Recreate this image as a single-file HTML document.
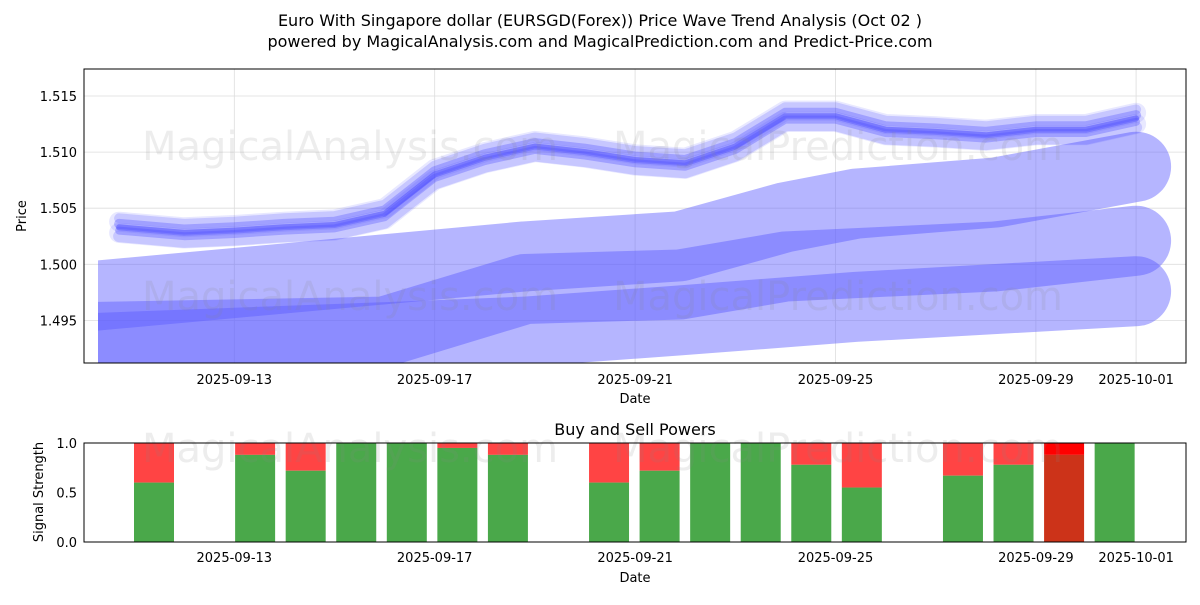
<!DOCTYPE html>
<html><head><meta charset="utf-8"><style>
body{margin:0;background:#fff;font-family:"Liberation Sans","DejaVu Sans",sans-serif}
svg text{font-family:"DejaVu Sans","Liberation Sans",sans-serif}
</style></head><body>
<svg id="c" width="1200" height="600" xmlns="http://www.w3.org/2000/svg">
<defs><clipPath id="cp"><rect x="84" y="69" width="1102" height="294"/></clipPath>
<clipPath id="cpb"><rect x="98" y="69" width="1088" height="294"/></clipPath></defs>
<text x="600" y="26" text-anchor="middle" font-size="16">Euro With Singapore dollar (EURSGD(Forex)) Price Wave Trend Analysis (Oct 02 )</text>
<text x="600" y="47" text-anchor="middle" font-size="16">powered by MagicalAnalysis.com and MagicalPrediction.com and Predict-Price.com</text>
<g id="topg"></g>
<g id="botg"></g>
</svg>
<script>
const dates=["2025-09-13","2025-09-17","2025-09-21","2025-09-25","2025-09-29","2025-10-01"];
const yTicks=[1.495,1.500,1.505,1.510,1.515];
const waveDays=[0.7,2,3,4,5,6,7,8,9,10,11,12,13,14,15,16,17,18,19,20,21];
const waveVals=[1.5033,1.5028,1.5030,1.5033,1.5035,1.5045,1.5080,1.5095,1.5105,1.5100,1.5093,1.5090,1.5105,1.5132,1.5132,1.5120,1.5118,1.5115,1.5120,1.5120,1.5130];
const band1Days=[0,8.8,11.9,14,15.4,18.2,21];
const band1=[1.4971,1.5007,1.5016,1.5042,1.5054,1.5064,1.5087];
const band2Days=[0,6,8.8,11.9,14,18.2,21];
const band2=[1.4935,1.4940,1.4978,1.4982,1.4998,1.5007,1.5021];
const band3Days=[0,6,8.8,11.9,15.4,21];
const band3=[1.4925,1.4935,1.4940,1.4950,1.4962,1.4976];
const barDays=[2,4,5,6,7,8,9,11,12,13,14,15,16,18,19,20,21];
const buyVals=[0.6,0.88,0.72,1.0,1.0,0.95,0.88,0.6,0.72,1.0,1.0,0.78,0.55,0.67,0.78,0.88,1.0];
const dayOf={"2025-09-13":3,"2025-09-17":7,"2025-09-21":11,"2025-09-25":15,"2025-09-29":19,"2025-10-01":21};
const NS="http://www.w3.org/2000/svg";
const X=d=>84+(d)*50.1;
const XB=d=>134+(d-2)*50.56;
const Y=v=>96+(1.515-v)*11220;
const YB=v=>542-v*99;
function mk(p,t,a){const e=document.createElementNS(NS,t);for(const k in a)e.setAttribute(k,a[k]);p.appendChild(e);return e;}
const topG=document.getElementById('topg'),botG=document.getElementById('botg');
for(const d of dates){const l=mk(topG,'line',{x1:X(dayOf[d]),x2:X(dayOf[d]),y1:69,y2:363,stroke:'#ddd','stroke-width':0.8});


const t=mk(topG,'text',{x:X(dayOf[d]),y:384,'text-anchor':'middle','font-size':13});t.textContent=d;


const t2=mk(botG,'text',{x:X(dayOf[d]),y:562,'text-anchor':'middle','font-size':13});t2.textContent=d;

}
for(const v of yTicks){const l=mk(topG,'line',{x1:84,x2:1186,y1:Y(v),y2:Y(v),stroke:'#ddd','stroke-width':0.8});


const t=mk(topG,'text',{x:77,y:Y(v)+5,'text-anchor':'end','font-size':13});t.textContent=v.toFixed(3);

}
const wm=[["MagicalAnalysis.com",350,160],["MagicalPrediction.com",838,160],["MagicalAnalysis.com",350,310],["MagicalPrediction.com",838,310]];
const gb=mk(topG,'g',{'clip-path':'url(#cpb)'});
const g=mk(topG,'g',{'clip-path':'url(#cp)'});
function path(days,vals){return days.map((d,i)=>(i?'L':'M')+X(d).toFixed(1)+' '+Y(vals[i]).toFixed(1)).join(' ');}
[[band1Days,band1,'b1'],[band2Days,band2,'b2'],[band3Days,band3,'b3']].forEach(([ds,b,n])=>{
const p=mk(gb,'path',{d:path(ds,b),fill:'none',stroke:'#5a5aff','stroke-opacity':0.45,'stroke-width':70,'stroke-linecap':'round','stroke-linejoin':'round'});

});
const offs=[[0.0005,20,0.12],[-0.0005,20,0.12],[0.0008,10,0.2],[-0.0008,12,0.2],[0.0003,10,0.3],[-0.0003,8,0.3],[0,6,0.45]];
offs.forEach(([o,w,a])=>{const p=mk(g,'path',{d:path(waveDays,waveVals.map(v=>v+o)),fill:'none',stroke:'#4444ff','stroke-opacity':a,'stroke-width':w,'stroke-linejoin':'round','stroke-linecap':'round'});

});
wm.forEach(([s,x,y])=>{const t=mk(topG,'text',{x:x,y:y,'text-anchor':'middle','font-size':40,fill:'#888','fill-opacity':0.15});t.textContent=s;

});
const r=mk(topG,'rect',{x:84,y:69,width:1102,height:294,fill:'none',stroke:'#000','stroke-width':1});


let t=mk(topG,'text',{x:635,y:403,'text-anchor':'middle','font-size':13});t.textContent='Date';


t=mk(topG,'text',{x:26,y:216,'text-anchor':'middle','font-size':13,transform:'rotate(-90 26 216)'});t.textContent='Price';


t=mk(botG,'text',{x:635,y:435,'text-anchor':'middle','font-size':16});t.textContent='Buy and Sell Powers';


barDays.forEach((d,i)=>{const x=XB(d),b=buyVals[i];const last=d===20;
const s=mk(botG,'rect',{x:x,y:YB(1),width:40,height:YB(b)-YB(1),fill:last?'#ff0000':'#ff4444'});


const bb=mk(botG,'rect',{x:x,y:YB(b),width:40,height:YB(0)-YB(b),fill:last?'#cc3319':'#4aa84a'});

});
[["MagicalAnalysis.com",350,462],["MagicalPrediction.com",838,462]].forEach(([s,x,y])=>{const t=mk(botG,'text',{x:x,y:y,'text-anchor':'middle','font-size':40,fill:'#888','fill-opacity':0.15});t.textContent=s;

});
[0,0.5,1].forEach(v=>{const t=mk(botG,'text',{x:77,y:YB(v)+5,'text-anchor':'end','font-size':13});t.textContent=v.toFixed(1);

});
const r2=mk(botG,'rect',{x:84,y:443,width:1102,height:99,fill:'none',stroke:'#000','stroke-width':1});


t=mk(botG,'text',{x:635,y:582,'text-anchor':'middle','font-size':13});t.textContent='Date';


t=mk(botG,'text',{x:43,y:492,'text-anchor':'middle','font-size':13,transform:'rotate(-90 43 492)'});t.textContent='Signal Strength';


</script>
</body></html>
